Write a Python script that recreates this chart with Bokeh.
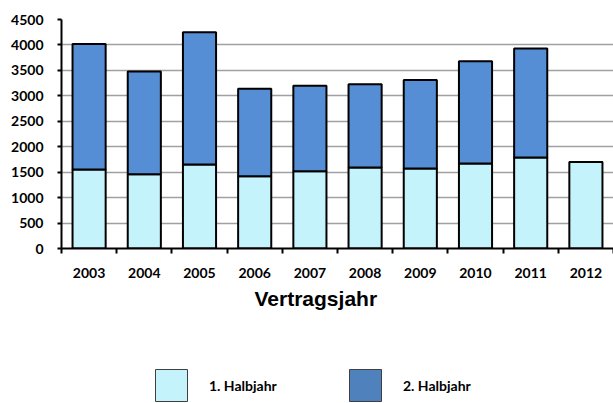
import numpy as np
from bokeh.plotting import figure
from bokeh.layouts import column
from bokeh.models import (ColumnDataSource, Range1d, FixedTicker, Legend, LegendItem, Title)
from bokeh.embed import file_html
from bokeh.resources import INLINE

years = ["2003", "2004", "2005", "2006", "2007", "2008", "2009", "2010", "2011", "2012"]
halbjahr1 = [1550, 1460, 1650, 1420, 1520, 1590, 1570, 1670, 1790, 1700]
halbjahr2 = [2470, 2020, 2600, 1720, 1680, 1640, 1740, 2010, 2140, 0]
series_labels = ["1. Halbjahr", "2. Halbjahr"]
x_title = "Vertragsjahr"
y_ticks = [0, 500, 1000, 1500, 2000, 2500, 3000, 3500, 4000, 4500]

LIGHT = "#C4F3FC"
DARK = "#558ED5"
LEG_DARK = "#4F81BD"

n = len(years)
xpos = np.arange(n) + 0.5
src = ColumnDataSource(dict(x=xpos, h1=halbjahr1, h2=halbjahr2))

p = figure(width=613, height=360, output_backend="svg", toolbar_location=None,
           x_range=Range1d(0, n), y_range=Range1d(0, max(y_ticks)),
           min_border_left=61, min_border_right=0, min_border_top=19,
           min_border_bottom=112)
p.outline_line_color = None
p.background_fill_color = "white"

p.vbar_stack(["h1", "h2"], x="x", width=0.6, source=src,
             fill_color=[LIGHT, DARK], line_color="black", line_width=2)

# axes
xa = p.xaxis[0]
xa.ticker = FixedTicker(ticks=list(xpos), minor_ticks=list(np.arange(n + 1)))
xa.major_label_overrides = {float(x): y for x, y in zip(xpos, years)}
xa.major_tick_out = 0
xa.major_tick_in = 0
xa.minor_tick_out = 5
xa.minor_tick_in = 0
xa.minor_tick_line_color = "black"
xa.minor_tick_line_width = 2
xa.axis_line_color = "black"
xa.axis_line_width = 2
xa.major_label_text_font = "Lato"
xa.major_label_text_font_style = "bold"
xa.major_label_text_font_size = "14px"
xa.major_label_text_color = "black"
xa.major_label_standoff = 14

p.add_layout(Title(text=x_title, align="left", offset=193,
                   text_font="Liberation Sans", text_font_style="bold",
                   text_font_size="21px", text_color="black", standoff=9), "below")

ya = p.yaxis[0]
ya.ticker = FixedTicker(ticks=y_ticks)
ya.axis_line_color = "black"
ya.axis_line_width = 2
ya.major_tick_out = 4
ya.major_tick_in = 0
ya.major_tick_line_width = 2
ya.minor_tick_line_color = None
ya.major_label_text_font = "Lato"
ya.major_label_text_font_style = "bold"
ya.major_label_text_font_size = "14px"
ya.major_label_text_color = "black"
ya.major_label_standoff = 14

p.xgrid.grid_line_color = None
p.ygrid.ticker = FixedTicker(ticks=y_ticks)
p.ygrid.grid_line_color = "#A0A0A0"
p.ygrid.grid_line_width = 1.5

# legend figure
lf = figure(width=613, height=43, output_backend="svg", toolbar_location=None,
            x_range=Range1d(0, 1), y_range=Range1d(0, 1),
            x_axis_location=None, y_axis_location=None,
            min_border=0, min_border_left=0, min_border_right=0,
            min_border_top=0, min_border_bottom=0)
lf.outline_line_color = None
lf.xgrid.grid_line_color = None
lf.ygrid.grid_line_color = None
dummy = ColumnDataSource(dict(x=[np.nan], top=[np.nan]))
r_l1 = lf.vbar(x="x", top="top", width=0.6, source=dummy,
               fill_color=LIGHT, line_color="#404040", line_width=1)
r_l2 = lf.vbar(x="x", top="top", width=0.6, source=dummy,
               fill_color=LEG_DARK, line_color="#404040", line_width=1)

legend = Legend(items=[LegendItem(label=series_labels[0], renderers=[r_l1]),
                       LegendItem(label=series_labels[1], renderers=[r_l2])],
                location=(90, -2), orientation="horizontal",
                glyph_width=40, glyph_height=40, label_standoff=18,
                label_width=136, spacing=0, padding=0, margin=0,
                border_line_color=None, background_fill_alpha=0,
                label_text_font="Lato", label_text_font_style="bold",
                label_text_font_size="14px", label_text_color="black")
lf.add_layout(legend, "center")

layout = column(p, lf, spacing=0)
open("out.html", "w").write(file_html(layout, INLINE))
